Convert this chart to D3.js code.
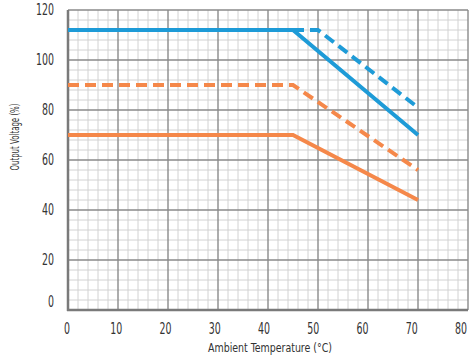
<!DOCTYPE html>
<html>
<head>
<meta charset="utf-8">
<script src="https://cdn.jsdelivr.net/npm/d3@7"></script>
<style>
  body { margin: 0; background: #fff; }
  svg text { font-family: 'DejaVu Sans Condensed', 'DejaVu Sans', sans-serif; font-stretch: condensed; fill: #333; }
</style>
</head>
<body>
<div id="chart"></div>
<script>
const xTicks = [0, 10, 20, 30, 40, 50, 60, 70, 80];
const yTicks = [0, 20, 40, 60, 80, 100, 120];

// curves: [temperature, output %]
const blueSolid = [[0, 112], [45, 112], [70, 70]];
const blueDashed = [[45, 112], [50, 112], [70, 81]];
const orangeDashed = [[0, 90], [45, 90], [70, 56]];
const orangeSolid = [[0, 70], [45, 70], [70, 44]];

const blue = '#1e9bd7';
const orange = '#f5884a';

let margin = { top: 10, right: 5, bottom: 45, left: 68 },
  width = 473 - margin.left - margin.right,
  height = 355 - margin.top - margin.bottom;

let svg = d3.select('#chart').append('svg')
  .attr('width', 473)
  .attr('height', 355);

let xScale = d3.scaleLinear().domain([0, 80]).range([0, width]);
let yScale = d3.scaleLinear().domain([0, 120]).range([height, 0]);
// labels in the original drift slightly left of their grid lines
let xLabelScale = d3.scaleLinear().domain([0, 80]).range([-1, width - 7]);

let vis = svg.append('g')
  .attr('transform', 'translate(' + margin.left + ',' + margin.top + ')');

// minor grid
vis.append('g')
  .selectAll('line')
  .data(d3.range(0, 81, 2).filter((d) => d % 10 !== 0))
  .join('line')
  .attr('x1', (d) => xScale(d)).attr('x2', (d) => xScale(d))
  .attr('y1', 0).attr('y2', height)
  .attr('stroke', '#d2d2d2').attr('stroke-width', 1);

vis.append('g')
  .selectAll('line')
  .data(d3.range(0, 121, 4).filter((d) => d % 20 !== 0))
  .join('line')
  .attr('y1', (d) => yScale(d)).attr('y2', (d) => yScale(d))
  .attr('x1', 0).attr('x2', width)
  .attr('stroke', '#d2d2d2').attr('stroke-width', 1);

// major grid
vis.append('g')
  .selectAll('line')
  .data(xTicks)
  .join('line')
  .attr('x1', (d) => xScale(d)).attr('x2', (d) => xScale(d))
  .attr('y1', 0).attr('y2', height)
  .attr('stroke', '#8a8a8a').attr('stroke-width', 1.4);

vis.append('g')
  .selectAll('line')
  .data(yTicks)
  .join('line')
  .attr('y1', (d) => yScale(d)).attr('y2', (d) => yScale(d))
  .attr('x1', 0).attr('x2', width)
  .attr('stroke', '#8a8a8a').attr('stroke-width', 1.4);

// heavier left / bottom border
vis.append('line')
  .attr('x1', 0).attr('x2', 0).attr('y1', 0).attr('y2', height + 1)
  .attr('stroke', '#7a7a7a').attr('stroke-width', 2.5);
vis.append('line')
  .attr('x1', -1).attr('x2', width).attr('y1', height).attr('y2', height)
  .attr('stroke', '#7a7a7a').attr('stroke-width', 2.5);

let line = d3.line()
  .x((d) => xScale(d[0]))
  .y((d) => yScale(d[1]));

function drawCurve(data, color, dashed) {
  vis.append('path')
    .datum(data)
    .attr('fill', 'none')
    .attr('stroke', color)
    .attr('stroke-width', 4)
    .attr('stroke-dasharray', dashed ? '11,6' : null)
    .attr('d', line);
}

drawCurve(orangeSolid, orange, false);
drawCurve(orangeDashed, orange, true);
drawCurve(blueDashed, blue, true);
drawCurve(blueSolid, blue, false);

// tick labels (narrow display face in the original)
vis.append('g')
  .selectAll('text')
  .data(xTicks)
  .join('text')
  .attr('x', (d) => xLabelScale(d))
  .attr('y', height + 24)
  .attr('text-anchor', 'middle')
  .attr('font-size', 15)
  .attr('textLength', (d) => String(d).length * 6)
  .attr('lengthAdjust', 'spacingAndGlyphs')
  .text((d) => d);

vis.append('g')
  .selectAll('text')
  .data(yTicks)
  .join('text')
  .attr('x', -14)
  .attr('y', (d) => yScale(d) + (d === 0 ? -3 : 5))
  .attr('text-anchor', 'end')
  .attr('font-size', 15)
  .attr('textLength', (d) => String(d).length * 6)
  .attr('lengthAdjust', 'spacingAndGlyphs')
  .text((d) => d);

// axis titles
svg.append('text')
  .attr('x', 270)
  .attr('y', 352)
  .attr('text-anchor', 'middle')
  .attr('font-size', 13)
  .attr('textLength', 124)
  .attr('lengthAdjust', 'spacingAndGlyphs')
  .text('Ambient Temperature (°C)');

svg.append('text')
  .attr('transform', 'translate(19,137) rotate(-90)')
  .attr('text-anchor', 'middle')
  .attr('font-size', 12)
  .attr('textLength', 67)
  .attr('lengthAdjust', 'spacingAndGlyphs')
  .text('Output Voltage (%)');
</script>
</body>
</html>
